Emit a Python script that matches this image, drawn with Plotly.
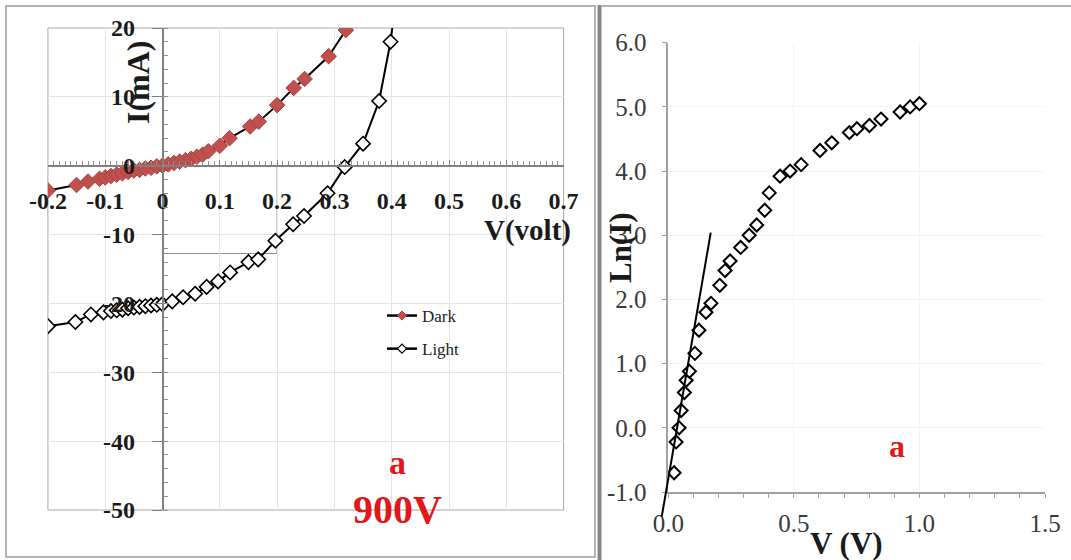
import plotly.graph_objects as go

W, H = 1071, 560

# ---------------- data: left panel (I-V) ----------------
dark_v = [-0.2, -0.15, -0.13, -0.11, -0.1, -0.09, -0.08, -0.07, -0.06, -0.05, -0.04, -0.03,
          -0.02, -0.01, 0.0, 0.01, 0.02, 0.03, 0.04, 0.05, 0.06, 0.07, 0.08, 0.1, 0.117,
          0.153, 0.168, 0.2, 0.229, 0.248, 0.29, 0.32]
dark_i = [-3.6, -2.8, -2.3, -1.9, -1.7, -1.5, -1.3, -1.1, -0.9, -0.7, -0.6, -0.4,
          -0.3, -0.1, 0.0, 0.2, 0.4, 0.6, 0.8, 1.0, 1.3, 1.6, 2.1, 2.9, 4.0,
          5.7, 6.4, 8.8, 11.3, 12.6, 15.9, 19.7]

light_v = [-0.2, -0.152, -0.125, -0.103, -0.09, -0.08, -0.07, -0.06, -0.05, -0.04, -0.03,
           -0.02, -0.01, 0.0, 0.017, 0.036, 0.057, 0.077, 0.097, 0.118, 0.15, 0.167,
           0.197, 0.228, 0.247, 0.288, 0.318, 0.35, 0.378, 0.398, 0.41]
light_i = [-23.3, -22.7, -21.6, -21.3, -21.1, -21.0, -20.9, -20.7, -20.6, -20.5, -20.4,
           -20.3, -20.2, -20.1, -19.7, -19.1, -18.6, -17.6, -16.8, -15.5, -14.0, -13.6,
           -10.9, -8.5, -7.3, -4.0, -0.2, 3.2, 9.4, 18.0, 26.0]

left_xticks = [-0.2, -0.1, 0.0, 0.1, 0.2, 0.3, 0.4, 0.5, 0.6, 0.7]
left_xtext = ["-0.2", "-0.1", "0", "0.1", "0.2", "0.3", "0.4", "0.5", "0.6", "0.7"]
left_yticks = [-50, -40, -30, -20, -10, 0, 10, 20]
left_ytext = ["-50", "-40", "-30", "-20", "-10", "0", "10", "20"]

# ---------------- data: right panel (Ln I - V) ----------------
ln_v = [0.023, 0.031, 0.043, 0.051, 0.064, 0.071, 0.084, 0.106, 0.122, 0.150, 0.170,
        0.205, 0.226, 0.246, 0.288, 0.322, 0.352, 0.384, 0.402, 0.445, 0.485, 0.529,
        0.604, 0.651, 0.721, 0.751, 0.801, 0.847, 0.923, 0.963, 1.000]
ln_i = [-0.70, -0.22, 0.00, 0.27, 0.55, 0.74, 0.88, 1.16, 1.52, 1.80, 1.94,
        2.22, 2.45, 2.60, 2.81, 3.00, 3.16, 3.39, 3.66, 3.92, 4.00, 4.10,
        4.32, 4.44, 4.60, 4.66, 4.71, 4.81, 4.92, 5.00, 5.05]
fit_v = [-0.026, 0.169]
fit_ln = [-1.38, 3.04]

right_xticks = [0.0, 0.5, 1.0, 1.5]
right_xtext = ["0.0", "0.5", "1.0", "1.5"]
right_yticks = [-1, 0, 1, 2, 3, 4, 5, 6]
right_ytext = ["-1.0", "0.0", "1.0", "2.0", "3.0", "4.0", "5.0", "6.0"]

# ---------------- layout geometry ----------------
SERIF = "Liberation Serif"
RED = "#e3161c"
NBSP = "\u00a0"

x1_dom = [47.9 / W, 563.6 / W]
y1_dom = [1 - 510 / H, 1 - 28 / H]
x1_rng = [-0.2, 0.7]
y1_rng = [-50, 20]
# axes cross at zero
xpos1 = y1_dom[0] + (0 - y1_rng[0]) / (y1_rng[1] - y1_rng[0]) * (y1_dom[1] - y1_dom[0])
ypos1 = x1_dom[0] + (0 - x1_rng[0]) / (x1_rng[1] - x1_rng[0]) * (x1_dom[1] - x1_dom[0])

x2_dom = [668.3 / W, 1045 / W]
y2_dom = [1 - 492 / H, 1 - 42.7 / H]
x2_rng = [0, 1.5]
y2_rng = [-1, 6]
# overlay axes (slightly larger area) so the fit line can run past the axes
ext_x = 14 / W
ext_y = 34 / H
sx = (x2_rng[1] - x2_rng[0]) / (x2_dom[1] - x2_dom[0])
sy = (y2_rng[1] - y2_rng[0]) / (y2_dom[1] - y2_dom[0])
x3_dom = [x2_dom[0] - ext_x, x2_dom[1]]
y3_dom = [y2_dom[0] - ext_y, y2_dom[1]]
x3_rng = [x2_rng[0] - ext_x * sx, x2_rng[1]]
y3_rng = [y2_rng[0] - ext_y * sy, y2_rng[1]]

fig = go.Figure()

fig.add_trace(go.Scatter(
    x=light_v, y=light_i, mode="lines+markers", xaxis="x", yaxis="y", showlegend=False,
    line=dict(color="black", width=2),
    marker=dict(symbol="diamond", size=11, color="white", line=dict(color="black", width=1.6)),
))
fig.add_trace(go.Scatter(
    x=dark_v, y=dark_i, mode="lines+markers", xaxis="x", yaxis="y", showlegend=False,
    line=dict(color="black", width=2),
    marker=dict(symbol="diamond", size=12, color="#c0504d", line=dict(color="#a8413e", width=1)),
))
# legend entries
fig.add_trace(go.Scatter(
    x=[None], y=[None], mode="lines+markers", name="Dark", xaxis="x", yaxis="y",
    legendgroup="d", line=dict(color="black", width=2.5),
    marker=dict(symbol="diamond", size=7, color="#c0504d", line=dict(color="#a8413e", width=1)),
))
fig.add_trace(go.Scatter(
    x=[None], y=[None], mode="lines+markers", name="Light", xaxis="x", yaxis="y",
    legendgroup="l", line=dict(color="black", width=2.5),
    marker=dict(symbol="diamond", size=7, color="white", line=dict(color="black", width=1.2)),
))

fig.add_trace(go.Scatter(
    x=ln_v, y=ln_i, mode="markers", xaxis="x2", yaxis="y2", showlegend=False,
    marker=dict(symbol="diamond", size=10, color="white", line=dict(color="black", width=2)),
))
fig.add_trace(go.Scatter(
    x=fit_v, y=fit_ln, mode="lines", xaxis="x3", yaxis="y3", showlegend=False,
    line=dict(color="black", width=2),
))

left_tickfont = dict(family=SERIF, size=24, color="#1a1a1a", weight="bold")
right_tickfont = dict(family=SERIF, size=25, color="#3a3a3a")

fig.update_layout(
    width=W, height=H, template="none",
    margin=dict(l=0, r=0, t=0, b=0),
    paper_bgcolor="white", plot_bgcolor="rgba(0,0,0,0)",
    showlegend=True,
    legend=dict(x=382 / W, y=1 - 298 / H, xanchor="left", yanchor="top",
                font=dict(family=SERIF, size=17, color="#222"),
                bgcolor="rgba(0,0,0,0)", traceorder="grouped", tracegroupgap=8),
    xaxis=dict(domain=x1_dom, range=x1_rng, anchor="free", position=xpos1,
               tickmode="array", tickvals=left_xticks, ticktext=left_xtext,
               tickfont=left_tickfont, ticks="inside", ticklen=5, tickcolor="#808080",
               ticklabelstandoff=14,
               minor=dict(tickmode="linear", tick0=0, dtick=0.01, ticks="inside",
                          ticklen=4, tickcolor="#909090", showgrid=False),
               showline=True, linecolor="#808080", linewidth=1.5,
               showgrid=True, gridcolor="#e4e4e4", gridwidth=1, zeroline=False),
    yaxis=dict(domain=y1_dom, range=y1_rng, anchor="free", position=ypos1,
               tickmode="array", tickvals=left_yticks,
               ticktext=[t + NBSP * 2 for t in left_ytext],
               tickfont=left_tickfont, ticks="outside", ticklen=10, tickcolor="#808080",
               minor=dict(tickmode="linear", tick0=0, dtick=2, ticks="inside",
                          ticklen=5, tickcolor="#909090", showgrid=False),
               showline=True, linecolor="#808080", linewidth=1.5,
               showgrid=True, gridcolor="#e4e4e4", gridwidth=1, zeroline=False),
    xaxis2=dict(domain=x2_dom, range=x2_rng, anchor="y2",
                tickmode="array", tickvals=right_xticks, ticktext=right_xtext,
                tickfont=right_tickfont, ticks="outside", ticklen=4, tickcolor="#a0a0a0",
                minor=dict(tickmode="linear", tick0=0, dtick=0.1, ticks="outside",
                           ticklen=4, tickcolor="#a0a0a0", showgrid=False),
                ticklabelstandoff=4,
                showline=True, linecolor="#a0a0a0", linewidth=1.5,
                showgrid=True, gridcolor="#f4f4f4", zeroline=False),
    yaxis2=dict(domain=y2_dom, range=y2_rng, anchor="x2",
                tickmode="array", tickvals=right_yticks, ticktext=right_ytext,
                tickfont=right_tickfont, ticks="outside", ticklen=5, tickcolor="#a0a0a0",
                ticklabelstandoff=10,
                showline=True, linecolor="#a0a0a0", linewidth=1.5,
                showgrid=True, gridcolor="#f4f4f4", zeroline=False),
    xaxis3=dict(domain=x3_dom, range=x3_rng, anchor="y3", visible=False),
    yaxis3=dict(domain=y3_dom, range=y3_rng, anchor="x3", visible=False),
)

shapes = [
    # left plot area border
    dict(type="rect", xref="x domain", yref="y domain", x0=0, x1=1, y0=0, y1=1,
         line=dict(color="#a8a8a8", width=1), layer="below"),
    # stray box in the left chart
    dict(type="rect", xref="x", yref="y", x0=0, x1=0.2, y0=0, y1=-12.75,
         line=dict(color="#8c8c8c", width=1), layer="below"),
    # picture frames
    dict(type="rect", xref="paper", yref="paper", x0=6 / W, x1=595 / W,
         y0=1 - 557 / H, y1=1 - 6 / H, line=dict(color="#9a9a9a", width=1.5)),
    dict(type="line", xref="paper", yref="paper", x0=599.5 / W, x1=599.5 / W,
         y0=0, y1=1 - 5 / H, line=dict(color="#858585", width=4)),
    dict(type="line", xref="paper", yref="paper", x0=600 / W, x1=1,
         y0=1 - 6 / H, y1=1 - 6 / H, line=dict(color="#9a9a9a", width=1.5)),
]
fig.update_layout(shapes=shapes)

ann = [
    dict(text="<b>I(mA)</b>", x=138 / W, y=1 - 82 / H, textangle=-90,
         font=dict(family=SERIF, size=32, color="#1a1a1a")),
    dict(text="<b>V(volt)</b>", x=527 / W, y=1 - 230 / H,
         font=dict(family=SERIF, size=29, color="#1a1a1a")),
    dict(text="<b>a</b>", x=397 / W, y=1 - 462 / H,
         font=dict(family=SERIF, size=34, color=RED)),
    dict(text="<b>900V</b>", x=397 / W, y=1 - 509 / H,
         font=dict(family=SERIF, size=40, color=RED)),
    dict(text="<b>Ln(I)</b>", x=620 / W, y=1 - 248 / H, textangle=-90,
         font=dict(family=SERIF, size=31, color="#1a1a1a")),
    dict(text="<b>V (V)</b>", x=846 / W, y=1 - 543 / H,
         font=dict(family=SERIF, size=31, color="#1a1a1a")),
    dict(text="<b>a</b>", x=897 / W, y=1 - 446 / H,
         font=dict(family=SERIF, size=32, color=RED)),
]
for a in ann:
    a.update(xref="paper", yref="paper", showarrow=False, xanchor="center", yanchor="middle")
fig.update_layout(annotations=ann)

fig.write_html(
    "out.html",
    config={"displayModeBar": False},
    post_script="document.body.style.margin='0';document.body.style.padding='0';"
                "document.body.style.overflow='hidden';",
)
